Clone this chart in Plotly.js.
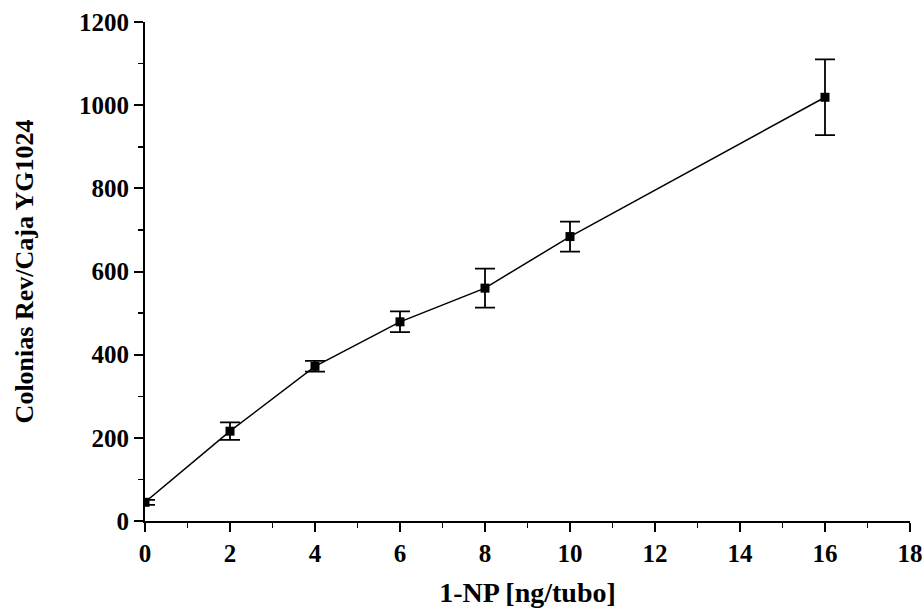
<!DOCTYPE html>
<html>
<head>
<meta charset="utf-8">
<script src="https://cdn.plot.ly/plotly-3.0.1.min.js"></script>
<style>html,body{margin:0;padding:0;background:#fff;}#chart{width:924px;height:611px;}</style>
</head>
<body>
<div id="chart"></div>
<script>
const doseNg = [0, 2, 4, 6, 8, 10, 16];
const colonies = [45, 216, 372, 479, 560, 684, 1019];
const errorSD = [6, 21, 13, 25, 47, 36, 91];
const xTickVals = [0, 2, 4, 6, 8, 10, 12, 14, 16, 18];
const yTickVals = [0, 200, 400, 600, 800, 1000, 1200];

const trace = {
  x: doseNg, y: colonies, type: 'scatter', mode: 'lines+markers',
  line: {color: '#000', width: 1.5},
  marker: {symbol: 'square', size: 9, color: '#000'},
  error_y: {type: 'data', array: errorSD, visible: true, color: '#000', thickness: 1.8, width: 10}
};
const fam = '"Liberation Serif", "Times New Roman", serif';
const layout = {
  width: 924, height: 611,
  margin: {l: 145, r: 14, t: 22, b: 90},
  paper_bgcolor: '#fff', plot_bgcolor: '#fff',
  showlegend: false,
  font: {family: fam, color: '#000'},
  xaxis: {
    range: [0, 18], tickvals: xTickVals, ticktext: xTickVals.map(v => '<b>' + v + '</b>'),
    showgrid: false, zeroline: false, showline: true, linecolor: '#000', linewidth: 2,
    ticks: 'outside', ticklen: 9, tickwidth: 2, tickcolor: '#000',
    minor: {dtick: 1, ticks: 'outside', ticklen: 5, tickwidth: 1.5, tickcolor: '#000', showgrid: false},
    tickfont: {size: 25, family: fam, color: '#000'},
    title: {text: '<b>1-NP [ng/tubo]</b>', font: {size: 28, family: fam, color: '#000'}, standoff: 16}
  },
  yaxis: {
    range: [0, 1200], tickvals: yTickVals, ticktext: yTickVals.map(v => '<b>' + v + '</b>'),
    showgrid: false, zeroline: false, showline: true, linecolor: '#000', linewidth: 2,
    ticks: 'outside', ticklen: 9, tickwidth: 2, tickcolor: '#000',
    minor: {dtick: 100, ticks: 'outside', ticklen: 5, tickwidth: 1.5, tickcolor: '#000', showgrid: false},
    tickfont: {size: 25, family: fam, color: '#000'},
    title: {text: '<b>Colonias Rev/Caja YG1024</b>', font: {size: 26, family: fam, color: '#000'}, standoff: 38}
  }
};
Plotly.newPlot('chart', [trace], layout, {displayModeBar: false, staticPlot: true});
</script>
</body>
</html>
